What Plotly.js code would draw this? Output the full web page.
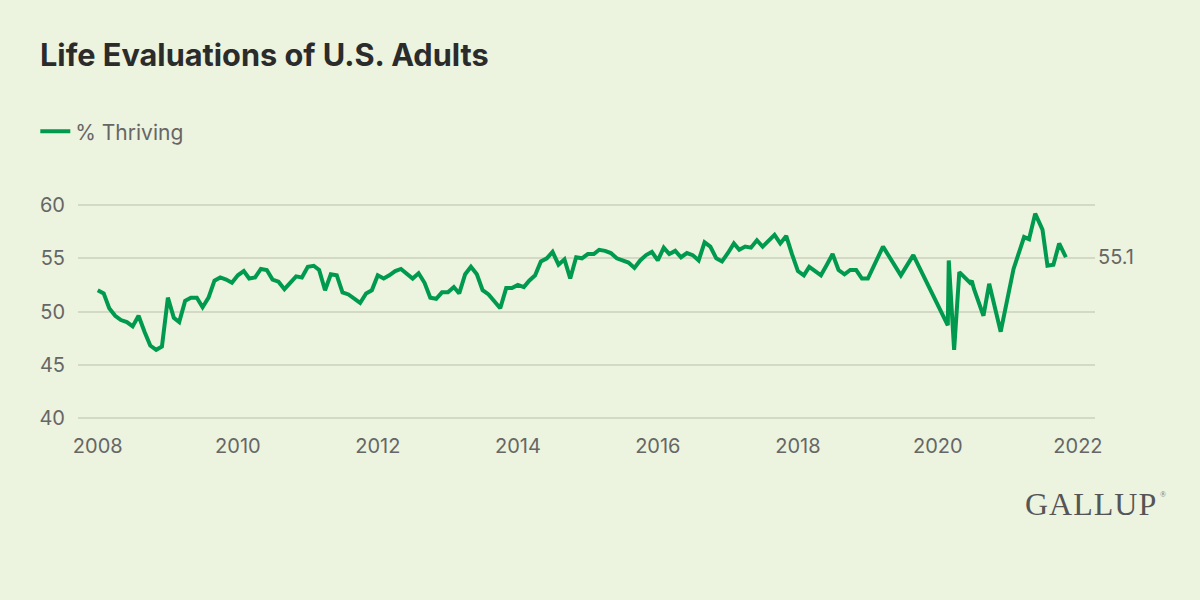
<!DOCTYPE html>
<html>
<head>
<meta charset="utf-8">
<script src="https://cdn.plot.ly/plotly-3.0.1.min.js"></script>
<style>
  html, body { margin: 0; padding: 0; background: #ecf3de; }
  #chart { width: 1200px; height: 600px; }
</style>
</head>
<body>
<div id="chart"></div>
<script>
// Monthly % thriving, starting January 2008 (one value per month)
const monthlyStart = [2008, 1];
const thrivingMonthly = [
  52.0, 51.7, 50.3, 49.6, 49.2, 49.0, 48.6, 49.6, 48.1, 46.8, 46.4, 46.7,
  51.3, 49.4, 49.0, 51.0, 51.3, 51.3, 50.4, 51.3, 52.9, 53.2, 53.0, 52.7,
  53.4, 53.8, 53.1, 53.2, 54.0, 53.9, 53.0, 52.8, 52.1, 52.7, 53.3, 53.2,
  54.2, 54.3, 53.9, 52.0, 53.5, 53.4, 51.8, 51.6, 51.2, 50.8, 51.7, 52.0,
  53.4, 53.1, 53.4, 53.8, 54.0, 53.6, 53.1, 53.6, 52.7, 51.3, 51.2, 51.8,
  51.8, 52.3, 51.7, 53.5, 54.2, 53.5, 52.0, 51.6, 50.9, 50.3, 52.2, 52.2,
  52.5, 52.3, 52.9, 53.4, 54.7, 55.0, 55.6, 54.4, 54.9, 53.1, 55.1, 55.0,
  55.4, 55.4, 55.8, 55.7, 55.5, 55.0, 54.8, 54.6, 54.1, 54.8, 55.3, 55.6,
  54.8, 56.0, 55.4, 55.7, 55.1, 55.5, 55.3, 54.8, 56.5, 56.1, 55.0, 54.7,
  55.5, 56.4, 55.8, 56.1, 56.0, 56.7, 56.1, 56.7, 57.2, 56.4, 57.1, 55.4,
  53.8, 53.4, 54.2, 53.8, 53.4, 54.4, 55.4, 53.9, 53.5, 53.9, 53.9, 53.1,
  53.1
];

// Later, irregularly spaced survey readings
const lateDates = [
  "2019-03-21", "2019-06-22", "2019-08-26",
  "2020-02-22", "2020-02-27", "2020-03-26", "2020-04-22", "2020-05-14",
  "2020-06-17", "2020-06-26", "2020-07-08", "2020-08-26", "2020-09-25",
  "2020-11-24", "2021-01-30", "2021-03-26", "2021-04-21", "2021-05-23",
  "2021-06-30", "2021-07-26", "2021-08-26", "2021-09-25", "2021-10-30"
];
const lateValues = [
  56.1, 53.4, 55.3,
  48.7, 54.8, 46.4, 53.7, 53.3,
  52.7, 52.9, 52.1, 49.6, 52.6,
  48.1, 54.0, 57.0, 56.8, 59.2,
  57.7, 54.3, 54.4, 56.4, 55.1
];

const seriesName = "% Thriving";
const chartTitle = "Life Evaluations of U.S. Adults";
const xTickYears = ["2008", "2010", "2012", "2014", "2016", "2018", "2020", "2022"];
const yTickValues = [40, 45, 50, 55, 60];

// Build the monthly date labels
const monthlyDates = thrivingMonthly.map((v, i) => {
  const total = (monthlyStart[0] * 12 + (monthlyStart[1] - 1)) + i;
  const y = Math.floor(total / 12);
  const m = (total % 12) + 1;
  return y + "-" + String(m).padStart(2, "0") + "-01";
});

const xs = monthlyDates.concat(lateDates);
const ys = thrivingMonthly.concat(lateValues);
const lastVal = ys[ys.length - 1];

const green = "#009a4e";
const gray = "#666666";
const bg = "#ecf3de";

const trace = {
  type: "scatter",
  mode: "lines",
  x: xs,
  y: ys,
  name: seriesName,
  line: { color: green, width: 4, shape: "linear" },
  hoverinfo: "x+y",
  showlegend: true
};

const layout = {
  width: 1200,
  height: 600,
  paper_bgcolor: bg,
  plot_bgcolor: bg,
  margin: { l: 78, r: 105, t: 203, b: 180, pad: 0 },
  font: { family: "Inter, 'Noto Sans', sans-serif", color: gray, size: 20 },
  title: {
    text: chartTitle,
    font: { family: "Inter, 'Noto Sans', sans-serif", size: 30.7, weight: 700, color: "#2b2b2b" },
    xref: "container", yref: "container",
    x: 40 / 1200, xanchor: "left",
    y: 1 - 55 / 600, yanchor: "middle"
  },
  showlegend: true,
  legend: {
    orientation: "h",
    x: -0.042, xanchor: "left",
    y: 1.3286, yanchor: "middle",
    font: { family: "Inter, 'Noto Sans', sans-serif", size: 21, color: gray },
    bgcolor: "rgba(0,0,0,0)",
    itemclick: false
  },
  xaxis: {
    type: "date",
    range: ["2007-09-20", "2022-03-31"],
    tickmode: "array",
    tickvals: xTickYears.map(y => y + "-01-01"),
    ticktext: xTickYears,
    showgrid: false,
    zeroline: false,
    showline: false,
    ticks: "",
    ticklabelstandoff: 12,
    tickfont: { size: 20, color: gray }
  },
  yaxis: {
    range: [39.8, 60.2],
    tickmode: "array",
    tickvals: yTickValues,
    ticktext: yTickValues.map(String),
    showgrid: true,
    gridcolor: "#d3d9c5",
    gridwidth: 2,
    zeroline: false,
    showline: false,
    ticks: "",
    ticklabelstandoff: 12,
    tickfont: { size: 20, color: gray }
  },
  annotations: [
    {
      xref: "paper", yref: "y",
      x: 1, y: lastVal,
      xanchor: "left", yanchor: "middle",
      text: lastVal.toFixed(1),
      showarrow: false,
      xshift: 1,
      font: { size: 20, color: gray }
    },
    {
      xref: "paper", yref: "paper",
      x: 1.062, y: -0.387,
      xanchor: "right", yanchor: "middle",
      text: "G A L L U P".split(" ").join("<span style='font-size:4px'> </span>"),
      showarrow: false,
      font: { family: "'Liberation Serif', 'DejaVu Serif', serif", size: 32, color: "#555555" }
    },
    {
      xref: "paper", yref: "paper",
      x: 1.0615, y: -0.343,
      xanchor: "left", yanchor: "middle",
      text: "®",
      showarrow: false,
      font: { family: "'Liberation Serif', serif", size: 8, color: "#777777" }
    }
  ]
};

Plotly.newPlot("chart", [trace], layout, { displayModeBar: false, staticPlot: true });
</script>
</body>
</html>
